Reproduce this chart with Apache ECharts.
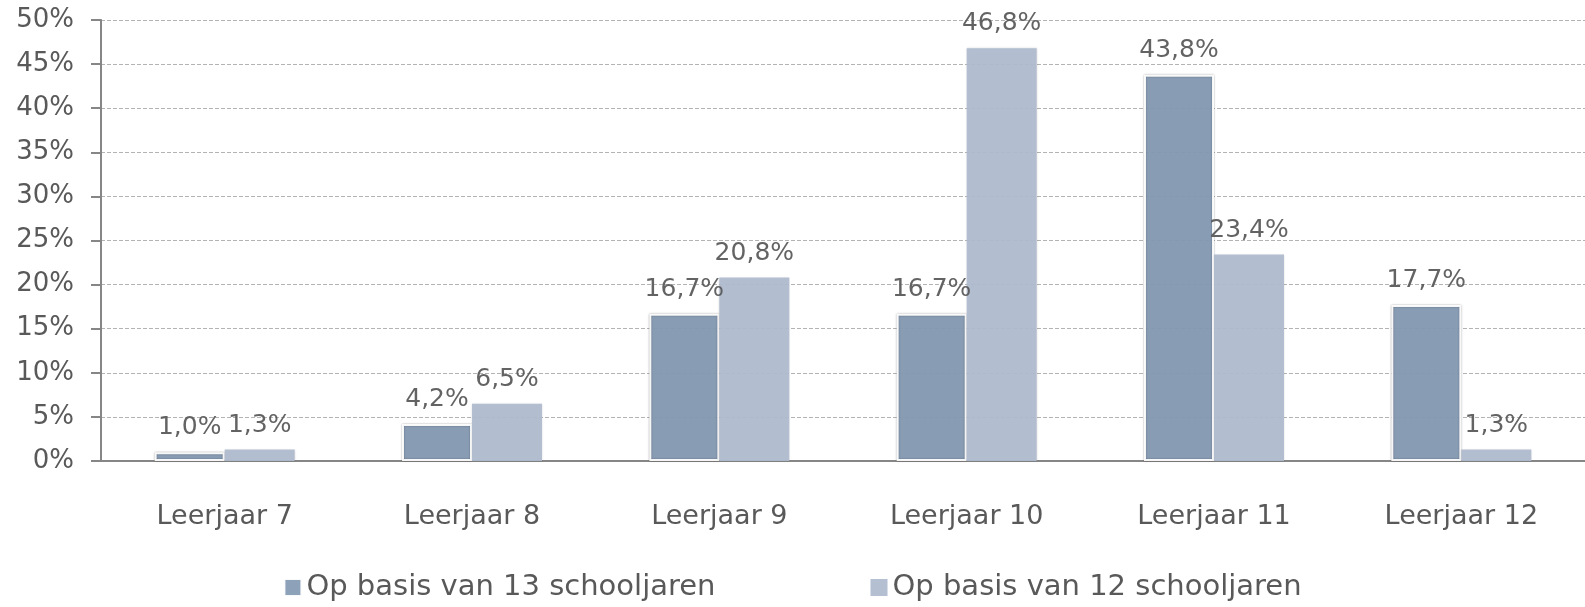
<!DOCTYPE html>
<html>
<head>
<meta charset="utf-8">
<script src="https://cdn.jsdelivr.net/npm/echarts@6/dist/echarts.min.js"></script>
<style>
  html, body { margin: 0; padding: 0; background: #fff; }
  #chart { width: 1585px; height: 607px; }
</style>
</head>
<body>
<div id="chart"></div>
<script>
const categories = ["Leerjaar 7", "Leerjaar 8", "Leerjaar 9", "Leerjaar 10", "Leerjaar 11", "Leerjaar 12"];
const seriesNames = ["Op basis van 13 schooljaren", "Op basis van 12 schooljaren"];
const basis13 = [1.0, 4.2, 16.7, 16.7, 43.8, 17.7];
const basis12 = [1.3, 6.5, 20.8, 46.8, 23.4, 1.3];

const font = "DejaVu Sans";
const textColor = "#595959";

const fmt = (v) => v.toFixed(1).replace(".", ",") + "%";

const chart = echarts.init(document.getElementById("chart"));

const barLabel = {
  show: true,
  position: "top",
  distance: 12,
  color: textColor,
  fontSize: 25,
  fontFamily: font,
  formatter: (p) => fmt(p.value),
};

chart.setOption({
  animation: false,
  textStyle: { fontFamily: font },
  grid: { left: 101, right: 0, top: 20, bottom: 146 },
  legend: {
    bottom: 0,
    left: "center",
    itemGap: 155,
    itemWidth: 17,
    itemHeight: 17,
    icon: "rect",
    textStyle: { fontFamily: font, fontSize: 29, color: textColor },
    data: seriesNames,
  },
  xAxis: {
    type: "category",
    data: categories,
    axisLine: { lineStyle: { color: "#868686", width: 2 } },
    axisTick: { length: 10, lineStyle: { color: "#868686", width: 2 } },
    axisLabel: { color: textColor, fontSize: 27, margin: 42, fontFamily: font },
  },
  yAxis: {
    type: "value",
    min: 0,
    max: 50,
    interval: 5,
    axisLine: { show: true, lineStyle: { color: "#868686", width: 2 } },
    axisTick: { show: true, length: 10, lineStyle: { color: "#868686", width: 2 } },
    axisLabel: { color: textColor, fontSize: 26, margin: 27, formatter: "{value}%", fontFamily: font },
    splitLine: { lineStyle: { color: "#b3b3b3", type: [4, 2], width: 1 } },
  },
  series: [
    {
      name: seriesNames[0],
      type: "bar",
      data: basis13,
      barWidth: 70,
      barGap: "0%",
      itemStyle: {
        color: "#869bb5",
        opacity: 0.94,
        borderColor: "#ffffff",
        borderWidth: 2,
        shadowColor: "rgba(0,0,0,0.35)",
        shadowBlur: 2,
      },
      label: barLabel,
    },
    {
      name: seriesNames[1],
      type: "bar",
      data: basis12,
      barWidth: 70,
      itemStyle: {
        color: "#afbbce",
        opacity: 0.94,
        shadowColor: "rgba(0,0,0,0.15)",
        shadowBlur: 2,
      },
      label: barLabel,
    },
  ],
});
</script>
</body>
</html>
